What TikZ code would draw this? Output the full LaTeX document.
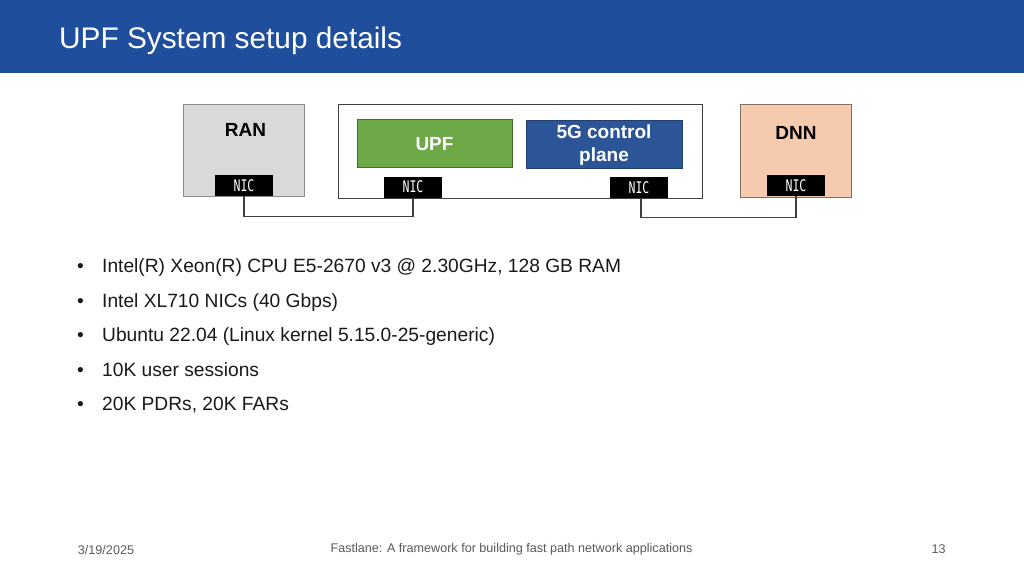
\documentclass[tikz,border=0pt]{standalone}
\usepackage{fontspec}
\setmainfont{Liberation Sans}
\newfontfamily\nicfont[FakeStretch=0.72]{DejaVu Sans Mono}
\definecolor{headblue}{HTML}{1F4E9C}
\definecolor{cpblue}{HTML}{2B5597}
\definecolor{upfgreen}{HTML}{6CA845}
\definecolor{rangray}{HTML}{D9D9D9}
\definecolor{dnnorange}{HTML}{F6CBAD}
\definecolor{footgray}{HTML}{595959}
\tikzset{
  boxstyle/.style={draw=#1,line width=0.9pt,anchor=north west,inner sep=0pt,outer sep=0pt},
  nicbox/.style={fill=black,text=white,minimum width=58pt,minimum height=21pt,inner sep=0pt,
    font=\nicfont\fontsize{16}{16}\selectfont},
  itemtext/.style={anchor=base west,inner sep=0pt,text=black!90,font=\fontsize{19.2}{22}\selectfont},
  blocktext/.style={inner sep=0pt,align=center,font=\bfseries\fontsize{19}{23}\selectfont},
  foottext/.style={inner sep=0pt,text=footgray,font=\fontsize{12.6}{14}\selectfont},
  wire/.style={draw=black!75,line width=1.2pt}
}
\begin{document}
\begin{tikzpicture}[x=1pt,y=-1pt]
  \useasboundingbox (0,0) rectangle (1024,576);
  \fill[headblue] (0,0) rectangle (1024,73);
  \node[anchor=base west,inner sep=0pt,text=white,font=\fontsize{29.8}{36}\selectfont] (title) at (59,48) {UPF System setup details};

  % boxes
  \node[boxstyle=black!45,fill=rangray,minimum width=121pt,minimum height=92pt] (ran) at (183.5,104.5) {};
  \node[boxstyle=black!75,fill=white,minimum width=363.5pt,minimum height=93.5pt] (host) at (338.5,104.5) {};
  \node[boxstyle=black!35!upfgreen,fill=upfgreen,minimum width=155pt,minimum height=48pt] (upf) at (357,119) {};
  \node[boxstyle=black!25!cpblue,fill=cpblue,minimum width=156pt,minimum height=48pt] (cp) at (526,120) {};
  \node[boxstyle=black!45!dnnorange,fill=dnnorange,minimum width=110.5pt,minimum height=92.5pt] (dnn) at (740.5,104.5) {};

  \node[blocktext,text=black] (ranlabel) at (245.5,130) {RAN};
  \node[blocktext,text=white] (upflabel) at (434.5,144) {UPF};
  \node[blocktext,text=white] (cplabel) at (604,145.5) {5G control\\plane};
  \node[blocktext,text=black] (dnnlabel) at (796,132.5) {DNN};

  \node[nicbox] (nicran) at (244,185.5) {NIC};
  \node[nicbox] (nicupf) at (413,187) {NIC};
  \node[nicbox] (niccp) at (639,187.5) {NIC};
  \node[nicbox] (nicdnn) at (796,185.5) {NIC};

  \draw[wire] (nicran.south) -- ++(0,20) -| (nicupf.south);
  \draw[wire] ([xshift=2pt]niccp.south) -- ++(0,19.5) -| (nicdnn.south);

  % list
  \foreach \i/\y/\txt in {1/272/{Intel(R) Xeon(R) CPU E5-2670 v3 @ 2.30GHz, 128 GB RAM},
      2/307/{Intel XL710 NICs (40 Gbps)},
      3/341.5/{Ubuntu 22.04 (Linux kernel 5.15.0-25-generic)},
      4/376/{10K user sessions},
      5/410.5/{20K PDRs, 20K FARs}}{
    \node[itemtext] (bullet\i) at (77,\y) {\textbullet};
    \node[itemtext] (item\i) at (102,\y) {\txt};
  }

  \node[foottext] (date) at (106,550) {3/19/2025};
  \node[foottext] (talk) at (511.5,549.5) {Fastlane: A framework for building fast path network applications};
  \node[foottext] (page) at (938.5,549.5) {13};
\end{tikzpicture}
\end{document}
